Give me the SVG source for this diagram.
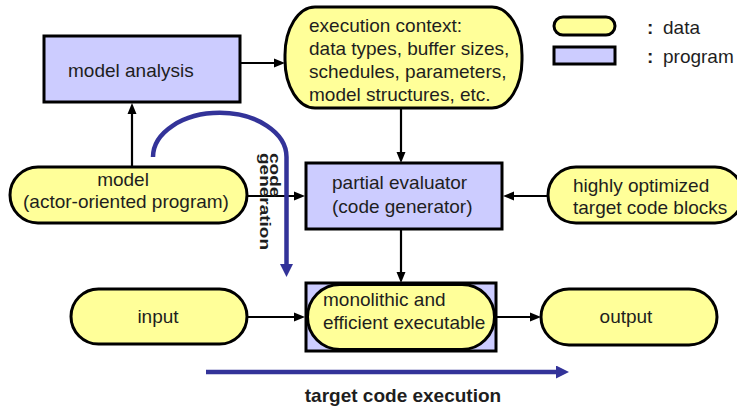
<svg xmlns="http://www.w3.org/2000/svg" width="737" height="407" viewBox="0 0 737 407">
<style>
  text { font-family: "Liberation Sans", Arial, sans-serif; font-size: 19px; fill: #1e1e1e; }
  .b { font-weight: bold; }
  .data { fill: #FFFF99; stroke: #000; stroke-width: 3; }
  .prog { fill: #CCCCFF; stroke: #000; stroke-width: 3; }
  .conn { stroke: #000; stroke-width: 2.2; fill: none; }
  .blue { stroke: #333399; stroke-width: 4.5; fill: none; }
</style>
<defs>
  <marker id="ah" markerUnits="userSpaceOnUse" markerWidth="11" markerHeight="10" refX="0" refY="5" orient="auto">
    <path d="M0,0.5 L11,5 L0,9.5 z" fill="#000"/>
  </marker>
  <marker id="bh" markerUnits="userSpaceOnUse" markerWidth="13" markerHeight="13" refX="0" refY="6.5" orient="auto">
    <path d="M0,0 L13,6.5 L0,13 z" fill="#333399"/>
  </marker>
</defs>
<rect width="737" height="407" fill="#fff"/>

<g id="connectors">
  <line class="conn" x1="241" y1="63" x2="274" y2="63" marker-end="url(#ah)"/>
  <line class="conn" x1="132" y1="166" x2="132" y2="114" marker-end="url(#ah)"/>
  <line class="conn" x1="401" y1="108" x2="401" y2="152" marker-end="url(#ah)"/>
  <line class="conn" x1="247" y1="196" x2="294" y2="196" marker-end="url(#ah)"/>
  <line class="conn" x1="548" y1="196" x2="514" y2="196" marker-end="url(#ah)"/>
  <line class="conn" x1="401" y1="229" x2="401" y2="272" marker-end="url(#ah)"/>
  <line class="conn" x1="247" y1="317" x2="294" y2="317" marker-end="url(#ah)"/>
  <line class="conn" x1="496" y1="317" x2="530" y2="317" marker-end="url(#ah)"/>
</g>

<g id="model-analysis">
  <rect class="prog" x="44" y="36" width="196" height="66"/>
  <text x="68" y="77">model analysis</text>
</g>

<g id="execution-context">
  <rect class="data" x="285" y="7" width="237" height="101" rx="30" ry="48"/>
  <text x="309" y="32">execution context:</text>
  <text x="309" y="55">data types, buffer sizes,</text>
  <text x="309" y="78">schedules, parameters,</text>
  <text x="309" y="101">model structures, etc.</text>
</g>

<g id="legend">
  <rect class="data" x="554" y="17" width="61" height="18" rx="9"/>
  <rect class="prog" x="554" y="47" width="61" height="17"/>
  <text x="647" y="34" class="b">:</text>
  <text x="663" y="34">data</text>
  <text x="647" y="63" class="b">:</text>
  <text x="663" y="63">program</text>
</g>

<g id="code-generation">
  <path class="blue" d="M153,157 A66.5,44 0 0 1 286.5,157 L286.5,264" marker-end="url(#bh)"/>
  <g transform="translate(270,153) rotate(90) scale(1,0.8)">
    <text class="b" x="0" y="0">code</text>
    <text class="b" x="0" y="12.5">generation</text>
  </g>
</g>

<g id="model">
  <rect class="data" x="10" y="167" width="237" height="56" rx="28"/>
  <text x="123" y="186" text-anchor="middle">model</text>
  <text x="126" y="208" text-anchor="middle">(actor-oriented program)</text>
</g>

<g id="partial-evaluator">
  <rect class="prog" x="306" y="163" width="196" height="66"/>
  <text x="332" y="189">partial evaluator</text>
  <text x="332" y="213">(code generator)</text>
</g>

<g id="code-blocks">
  <rect class="data" x="548" y="167" width="195" height="56" rx="28"/>
  <text x="573" y="192">highly optimized</text>
  <text x="573" y="214">target code blocks</text>
</g>

<g id="executable">
  <rect class="prog" x="306" y="283" width="190" height="68"/>
  <rect class="data" x="307.5" y="284.5" width="187" height="65" rx="32.5"/>
  <text x="323" y="306">monolithic and</text>
  <text x="323" y="329">efficient executable</text>
</g>

<g id="input">
  <rect class="data" x="71" y="289" width="176" height="55" rx="27.5"/>
  <text x="158" y="323" text-anchor="middle">input</text>
</g>

<g id="output">
  <rect class="data" x="541" y="289" width="176" height="56" rx="28"/>
  <text x="626" y="323" text-anchor="middle">output</text>
</g>

<g id="target-code-execution">
  <line class="blue" x1="206" y1="372" x2="556" y2="372" marker-end="url(#bh)"/>
  <text class="b" x="403" y="402" text-anchor="middle">target code execution</text>
</g>
</svg>
